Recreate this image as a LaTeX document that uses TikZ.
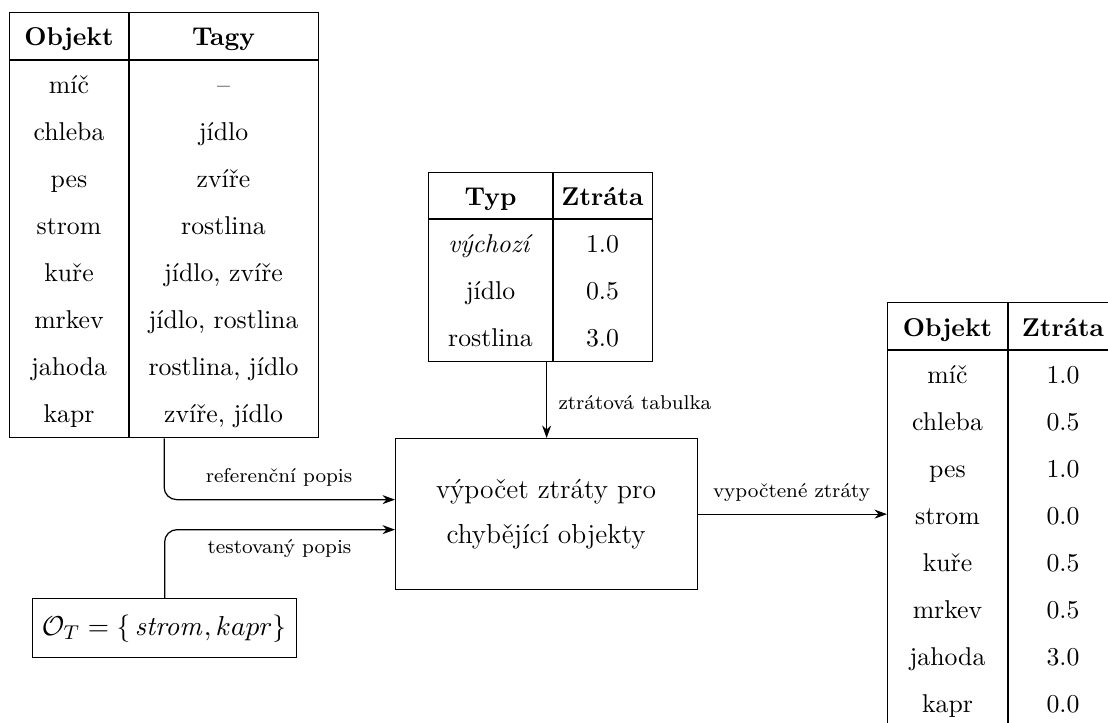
\documentclass[tikz,border=0pt]{standalone}
\usetikzlibrary{arrows.meta}
\begin{document}
\begin{tikzpicture}[x=0.4pt,y=-0.4pt,
  frame/.style={draw, line width=0.5pt, inner sep=0pt, anchor=north west},
  rule/.style={line width=0.5pt},
  cell/.style={inner sep=0pt, anchor=base, font=\fontsize{10.3}{12}\selectfont},
  head/.style={cell, font=\fontsize{10.3}{12}\selectfont\bfseries},
  boxtext/.style={inner sep=0pt, anchor=base, font=\fontsize{11}{18}\selectfont},
  lab/.style={inner sep=0pt, font=\fontsize{8}{10}\selectfont},
  arr/.style={line width=0.5pt, -{Stealth[length=5pt,width=3.6pt,inset=1.6pt]}},
  conn/.style={arr, rounded corners=5pt}]
\useasboundingbox (0,0) rectangle (1108,722);

% ---------- left table: objects and tags ----------
\node[frame, minimum width=123.6pt, minimum height=170pt] (t1) at (9,12) {};
\draw[rule] (9,60) -- (318,60);
\draw[rule] (129,12) -- (129,437);
\node[head] (t1h1) at (69,45) {Objekt};
\node[head] (t1h2) at (223.5,45) {Tagy};
\foreach \a/\b [count=\i] in {míč/{--}, chleba/jídlo, pes/zvíře, strom/rostlina,
  kuře/{jídlo, zvíře}, mrkev/{jídlo, rostlina}, jahoda/{rostlina, jídlo}, kapr/{zvíře, jídlo}} {
  \node[cell] (t1a\i) at (69,{46+47*\i}) {\a};
  \node[cell] (t1b\i) at (223.5,{46+47*\i}) {\b};
}

% ---------- middle table: loss per type ----------
\node[frame, minimum width=89.6pt, minimum height=75.6pt] (t2) at (428,172) {};
\draw[rule] (428,219) -- (652,219);
\draw[rule] (553,172) -- (553,361);
\node[head] (t2h1) at (490.5,205) {Typ};
\node[head] (t2h2) at (602.5,205) {Ztráta};
\foreach \a/\b [count=\i] in {\textit{výchozí}/1.0, jídlo/0.5, rostlina/3.0} {
  \node[cell] (t2a\i) at (490.5,{205+47*\i}) {\a};
  \node[cell] (t2b\i) at (602.5,{205+47*\i}) {\b};
}

% ---------- central process box ----------
\node[frame, minimum width=120.8pt, minimum height=60.4pt] (box) at (395,438) {};
\node[boxtext] (bx1) at (546,498) {výpočet ztráty pro};
\node[boxtext] (bx2) at (546,543) {chybějící objekty};

% ---------- test description ----------
\node[frame, minimum width=105.6pt, minimum height=23.6pt] (ot) at (32,598) {};
\node[inner sep=0pt, font=\fontsize{11}{14}\selectfont] (otx) at (164,628)
  {$\mathcal{O}_T = \bigl\{\,\mathit{strom}, kapr\bigr\}$};

% ---------- right table: computed losses ----------
\node[frame, minimum width=92.4pt, minimum height=175.2pt] (t3) at (887,302) {};
\draw[rule] (887,350) -- (1118,350);
\draw[rule] (1008,302) -- (1008,740);
\node[head] (t3h1) at (947.5,336) {Objekt};
\node[head] (t3h2) at (1063,336) {Ztráta};
\foreach \a/\b [count=\i] in {míč/1.0, chleba/0.5, pes/1.0, strom/0.0,
  kuře/0.5, mrkev/0.5, jahoda/3.0, kapr/0.0} {
  \node[cell] (t3a\i) at (947.5,{336+47*\i}) {\a};
  \node[cell] (t3b\i) at (1063,{336+47*\i}) {\b};
}

% ---------- connectors ----------
\draw[conn] (t1.south) |- ([yshift=5.8pt]box.west);
\draw[conn] (ot.north) |- ([yshift=-6.2pt]box.west);
\draw[arr] (box.north |- t2.south) -- (box.north);
\draw[arr] (box.east) -- (box.east -| t3.west);

% ---------- connector labels ----------
\node[lab] (l1) at (279,477) {referenční popis};
\node[lab] (l2) at (279.5,549) {testovaný popis};
\node[lab, anchor=west] (l3) at (558,403) {ztrátová tabulka};
\node[lab] (l4) at (791.5,493) {vypočtené ztráty};
\end{tikzpicture}
\end{document}
